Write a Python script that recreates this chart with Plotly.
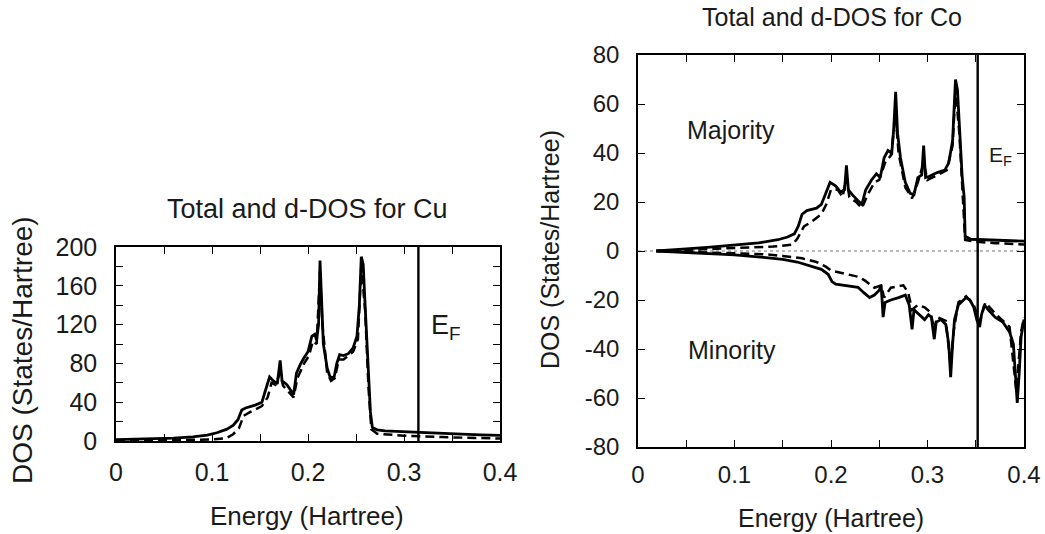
import plotly.graph_objects as go

# ---------------- data ----------------
cu_total_e = [0.0, 0.02, 0.04, 0.06, 0.08, 0.095, 0.105, 0.115, 0.122, 0.127, 0.131, 0.135, 0.145,
              0.152, 0.155, 0.160, 0.164, 0.168, 0.171, 0.173, 0.178, 0.182, 0.185, 0.188, 0.192,
              0.196, 0.200, 0.204, 0.207, 0.209, 0.211, 0.2125, 0.214, 0.216, 0.220, 0.223, 0.227,
              0.230, 0.233, 0.237, 0.242, 0.247, 0.251, 0.2535, 0.2555, 0.2575, 0.2595, 0.2615, 0.263,
              0.265, 0.267, 0.272, 0.280, 0.300, 0.320, 0.340, 0.360, 0.380, 0.400]
cu_total = [1.5, 1.8, 2.2, 3.0, 4.2, 6, 8.5, 12, 16, 22, 32, 34, 37,
            40, 50, 66, 62, 59, 83, 62, 58, 52, 48, 70, 79,
            86, 92, 108, 110, 104, 120, 186, 150, 100, 75, 66, 65,
            80, 89, 88, 90, 96, 108, 140, 190, 182, 140, 95, 60,
            30, 14, 11.5, 10.5, 9.5, 8.5, 7.7, 7, 6.3, 5.8]

cu_d_e = [0.0, 0.04, 0.08, 0.10, 0.115, 0.122, 0.128, 0.133, 0.140, 0.152, 0.158, 0.162, 0.166,
          0.171, 0.174, 0.181, 0.185, 0.189, 0.196, 0.201, 0.205, 0.209, 0.2125, 0.215, 0.220,
          0.224, 0.228, 0.232, 0.237, 0.247, 0.252, 0.2555, 0.2595, 0.263, 0.266, 0.272, 0.300,
          0.340, 0.370, 0.400]
cu_d = [0.5, 0.6, 1.0, 1.5, 3, 7, 13, 26, 30, 36, 45, 60, 58,
        70, 57, 50, 45, 65, 80, 88, 103, 100, 175, 120, 70,
        62, 65, 84, 84, 92, 105, 180, 135, 55, 12, 7.5, 5.5,
        4, 3, 2.5]

co_maj_e = [0.019, 0.03, 0.05, 0.075, 0.10, 0.125, 0.145, 0.155, 0.162, 0.166, 0.170, 0.175, 0.185,
            0.190, 0.195, 0.199, 0.205, 0.210, 0.214, 0.216, 0.218, 0.222, 0.228, 0.232, 0.236,
            0.242, 0.247, 0.251, 0.255, 0.259, 0.263, 0.265, 0.267, 0.269, 0.272, 0.277, 0.282,
            0.286, 0.290, 0.294, 0.296, 0.298, 0.302, 0.310, 0.318, 0.322, 0.326, 0.329, 0.331,
            0.333, 0.336, 0.338, 0.339, 0.345, 0.360, 0.380, 0.400]
co_maj = [0, 0.4, 0.9, 1.6, 2.3, 3.3, 4.6, 5.7, 7, 10, 15, 16.5, 17.5,
          19, 24, 28, 26.5, 24, 25, 35, 25, 23, 20.5, 19, 25,
          29, 31.5, 30, 38, 41, 40, 50, 65, 48, 38, 28, 23.5,
          23, 30, 31, 43, 30, 30.5, 32, 33, 36, 45, 70, 66,
          52, 30, 22, 6, 4.8, 4.6, 4.3, 4.0]

co_maj_d_e = [0.019, 0.05, 0.10, 0.14, 0.16, 0.165, 0.172, 0.180, 0.190, 0.195, 0.200, 0.207, 0.212,
              0.216, 0.219, 0.226, 0.232, 0.238, 0.245, 0.250, 0.256, 0.262, 0.267, 0.270, 0.277,
              0.284, 0.290, 0.296, 0.300, 0.310, 0.320, 0.326, 0.329, 0.333, 0.336, 0.339, 0.350,
              0.370, 0.400]
co_maj_d = [0, 0.4, 1.0, 1.8, 2.6, 5, 10, 12, 15, 19, 25, 25, 22,
            30, 22, 20, 17.5, 23, 28, 29, 36, 39, 55, 40, 26,
            21.5, 28, 36, 29, 31, 33, 43, 66, 48, 27, 4.5, 3.8,
            3.2, 2.7]

co_min_e = [0.019, 0.05, 0.10, 0.13, 0.15, 0.165, 0.18, 0.19, 0.197, 0.201, 0.205, 0.215, 0.228,
            0.234, 0.240, 0.245, 0.250, 0.252, 0.254, 0.256, 0.262, 0.270, 0.277, 0.281, 0.284,
            0.286, 0.292, 0.297, 0.301, 0.304, 0.307, 0.309, 0.314, 0.319, 0.322, 0.324, 0.326,
            0.328, 0.332, 0.337, 0.340, 0.344, 0.348, 0.351, 0.354, 0.356, 0.359, 0.363, 0.370,
            0.378, 0.385, 0.389, 0.392, 0.393, 0.395, 0.397, 0.400]
co_min = [0, -0.6, -1.6, -2.6, -3.4, -4.5, -6.3, -7.5, -9.5, -12.5, -13.5, -14, -14.8,
          -17, -19, -18, -16, -14, -27, -21, -20, -19, -18, -22, -32,
          -24, -26, -28, -26, -27, -36, -29, -28, -30, -38, -51.5, -38,
          -28, -22, -20, -19, -20, -23, -28, -31, -26, -22, -24, -27,
          -29, -33, -38, -55, -62, -50, -35, -28]

co_min_d_e = [0.019, 0.05, 0.10, 0.13, 0.15, 0.17, 0.185, 0.195, 0.200, 0.215, 0.228, 0.235, 0.245,
              0.252, 0.255, 0.262, 0.275, 0.280, 0.284, 0.290, 0.297, 0.303, 0.307, 0.310, 0.319,
              0.324, 0.327, 0.332, 0.340, 0.348, 0.354, 0.360, 0.370, 0.385, 0.392, 0.397, 0.400]
co_min_d = [0, -0.4, -0.8, -1.3, -2, -3, -4.5, -6.5, -8, -9.5, -10.5, -12, -15,
            -14, -19, -15, -14, -17, -24, -22, -23, -25, -32, -27, -28.5,
            -47, -33, -21, -18.5, -22, -29, -21, -25.5, -31, -57, -33, -27]

fermi_cu = 0.315
fermi_co = 0.352

x_ticks = [0, 0.1, 0.2, 0.3, 0.4]
x_ticktext = ["0", "0.1", "0.2", "0.3", "0.4"]
cu_yticks = [0, 40, 80, 120, 160, 200]
co_yticks = [-80, -60, -40, -20, 0, 20, 40, 60, 80]
co_yticktext = ["-80", "-60", "-40", "-20", "0", "20", "40", "60", "80"]

# ---------------- figure ----------------
FONT = "Liberation Sans, Arial, Helvetica, sans-serif"
W, H = 1045, 534

def px(x):
    return x / W

def py(y):
    return 1 - y / H

fig = go.Figure()
solid = dict(color="black", width=2.8)
dashed = dict(color="black", width=2.5, dash="9px,5px")

fig.add_trace(go.Scatter(x=cu_d_e, y=cu_d, mode="lines", line=dashed, xaxis="x", yaxis="y"))
fig.add_trace(go.Scatter(x=cu_total_e, y=cu_total, mode="lines", line=solid, xaxis="x", yaxis="y"))
fig.add_trace(go.Scatter(x=[fermi_cu, fermi_cu], y=[0, 200], mode="lines",
                         line=dict(color="black", width=2.4), xaxis="x", yaxis="y"))

fig.add_trace(go.Scatter(x=[0, 0.4], y=[0, 0], mode="lines",
                         line=dict(color="#777777", width=1, dash="dot"), xaxis="x2", yaxis="y2"))
fig.add_trace(go.Scatter(x=co_maj_d_e, y=co_maj_d, mode="lines", line=dashed, xaxis="x2", yaxis="y2"))
fig.add_trace(go.Scatter(x=co_maj_e, y=co_maj, mode="lines", line=solid, xaxis="x2", yaxis="y2"))
fig.add_trace(go.Scatter(x=co_min_d_e, y=co_min_d, mode="lines", line=dashed, xaxis="x2", yaxis="y2"))
fig.add_trace(go.Scatter(x=co_min_e, y=co_min, mode="lines", line=solid, xaxis="x2", yaxis="y2"))
fig.add_trace(go.Scatter(x=[fermi_co, fermi_co], y=[-80, 80], mode="lines",
                         line=dict(color="black", width=2.4), xaxis="x2", yaxis="y2"))

axis_common = dict(showline=True, mirror="ticks", linecolor="black", linewidth=1.5,
                   ticks="inside", ticklen=7, tickcolor="black", tickwidth=1.2,
                   showgrid=False, zeroline=False, fixedrange=True, automargin=False)

fig.update_layout(
    width=W, height=H,
    margin=dict(l=0, r=0, t=0, b=0, pad=0),
    paper_bgcolor="white", plot_bgcolor="white",
    showlegend=False,
    font=dict(family=FONT, color="#1a1a1a"),
    xaxis=dict(domain=[px(116), px(500)], range=[0, 0.4], anchor="y",
               tickvals=x_ticks, ticktext=x_ticktext, tickfont=dict(size=25),
               minor=dict(dtick=0.05, tick0=0, ticks="inside", ticklen=7, tickcolor="black"),
               ticklabelstandoff=8, **axis_common),
    yaxis=dict(domain=[py(441), py(247)], range=[0, 200], anchor="x",
               tickvals=cu_yticks, tickfont=dict(size=25),
               minor=dict(dtick=20, tick0=0, ticks="inside", ticklen=7, tickcolor="black"),
               ticklabelstandoff=12, **axis_common),
    xaxis2=dict(domain=[px(638), px(1024)], range=[0, 0.4], anchor="y2",
                tickvals=x_ticks, ticktext=x_ticktext, tickfont=dict(size=24),
                minor=dict(dtick=0.05, tick0=0, ticks="inside", ticklen=7, tickcolor="black"),
                ticklabelstandoff=5, **axis_common),
    yaxis2=dict(domain=[py(447), py(55)], range=[-80, 80], anchor="x2",
                tickvals=co_yticks, ticktext=co_yticktext, tickfont=dict(size=24),
                ticklabelstandoff=12, **axis_common),
)

ann = []
def add_text(text, x, y, size, angle=0, xanchor="center", yanchor="middle"):
    ann.append(dict(text=text, x=px(x), y=py(y), xref="paper", yref="paper",
                    showarrow=False, font=dict(size=size, family=FONT, color="#1a1a1a"),
                    textangle=angle, xanchor=xanchor, yanchor=yanchor))

add_text("Total and d-DOS for Cu", 308, 209, 27)
add_text("Total and d-DOS for Co", 832, 17, 25)
add_text("Energy (Hartree)", 307, 516, 26)
add_text("Energy (Hartree)", 831, 518, 25)
add_text("DOS (States/Hartree)", 22, 350, 28, angle=-90)
add_text("DOS (States/Hartree)", 550, 250, 25, angle=-90)
add_text("E<sub>F</sub>", 429, 327, 27, xanchor="left")
add_text("E<sub>F</sub>", 987, 156, 21, xanchor="left")
add_text("Majority", 731, 130, 25)
add_text("Minority", 732, 350, 25)
fig.update_layout(annotations=ann)

fig.write_html(
    "out.html",
    config={"displayModeBar": False},
    post_script="document.body.style.margin='0';document.body.style.overflow='hidden';",
)
